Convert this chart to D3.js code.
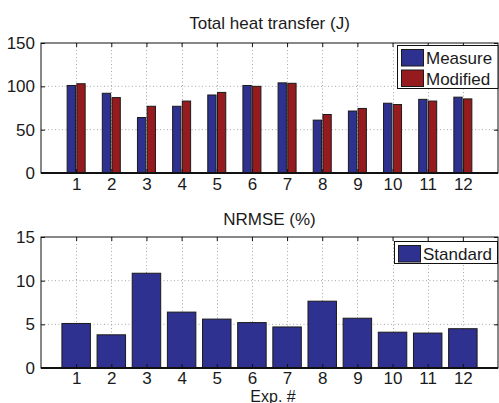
<!DOCTYPE html>
<html><head><meta charset="utf-8">
<script src="https://cdn.jsdelivr.net/npm/d3@7"></script>
<style>
html,body{margin:0;padding:0;background:#fff;}
svg{display:block;font-family:"Liberation Sans",Arial,sans-serif;}
</style></head>
<body>
<svg id="c" width="499" height="403"></svg>
<script>
const categories = ["1","2","3","4","5","6","7","8","9","10","11","12"];
const measure  = [101, 92, 64, 77, 90, 101, 104, 61, 71.5, 80.5, 85, 87.5];
const modified = [103, 87, 77, 83, 93, 100, 103.5, 67.5, 74.5, 79, 83, 85.5];
const standard = [5.1, 3.8, 10.85, 6.4, 5.6, 5.2, 4.7, 7.65, 5.7, 4.1, 4.0, 4.5];
const topTicks = [0, 50, 100, 150];
const botTicks = [0, 5, 10, 15];
const topTitle = "Total heat transfer (J)";
const botTitle = "NRMSE (%)";
const xLabel = "Exp. #";

const BLUE = "#2f3190", RED = "#961b1f";
const svg = d3.select("#c");
const L = 41, R = 498;
const x = d3.scaleLinear().domain([0, 13]).range([L, R]);

function panel(top, bottom, yMax, ticks, title, titleY, series, colors, names, barW, offsets, legendBox, pad) {
  const y = d3.scaleLinear().domain([0, yMax]).range([bottom, top]);
  const g = svg.append("g");
  g.selectAll(".gy").data(ticks.filter(t => t > 0 && t < yMax)).enter().append("line")
    .attr("x1", L).attr("x2", R).attr("y1", d => y(d)).attr("y2", d => y(d))
    .attr("stroke", "#a8a8a8").attr("stroke-width", 1).attr("stroke-dasharray", "1,2.5");
  g.selectAll(".gx").data(categories).enter().append("line")
    .attr("x1", (d, i) => Math.round(x(i + 1)) + 0.5).attr("x2", (d, i) => Math.round(x(i + 1)) + 0.5)
    .attr("y1", top).attr("y2", bottom)
    .attr("stroke", "#a8a8a8").attr("stroke-width", 1).attr("stroke-dasharray", "1,2.5");
  series.forEach((s, k) => {
    g.selectAll(null).data(s).enter().append("rect")
      .attr("x", (d, i) => x(i + 1 + offsets[k] - barW / 2))
      .attr("width", x(barW) - x(0))
      .attr("y", d => y(d)).attr("height", d => y(0) - y(d))
      .attr("fill", colors[k]).attr("stroke", "#1a1a1a").attr("stroke-width", 1);
  });
  g.append("rect").attr("x", L).attr("y", top).attr("width", R - L).attr("height", bottom - top)
    .attr("fill", "none").attr("stroke", "#111").attr("stroke-width", 1);
  g.append("line").attr("x1", L).attr("x2", R).attr("y1", bottom).attr("y2", bottom)
    .attr("stroke", "#111").attr("stroke-width", 2);
  const yAx = d3.axisLeft(y).tickValues(ticks).tickSize(-4).tickPadding(6);
  const ya = g.append("g").attr("transform", `translate(${L},0)`).call(yAx);
  ya.select(".domain").remove();
  ya.selectAll("text").attr("font-size", 17).attr("fill", "#1a1a1a").attr("font-family", "Liberation Sans, Arial, sans-serif");
  ya.selectAll("line").attr("stroke", "#111");
  const yAxR = d3.axisRight(y).tickValues(ticks).tickSize(-4).tickFormat("");
  const yr = g.append("g").attr("transform", `translate(${R},0)`).call(yAxR);
  yr.select(".domain").remove();
  yr.selectAll("line").attr("stroke", "#111");
  const xAx = d3.axisBottom(x).tickValues(d3.range(1, 13)).tickSize(-4).tickPadding(pad)
    .tickFormat(d => categories[d - 1]);
  const xa = g.append("g").attr("transform", `translate(0,${bottom})`).call(xAx);
  xa.select(".domain").remove();
  xa.selectAll("text").attr("font-size", 17).attr("fill", "#1a1a1a").attr("font-family", "Liberation Sans, Arial, sans-serif");
  xa.selectAll("line").attr("stroke", "#111");
  const xAxT = d3.axisTop(x).tickValues(d3.range(1, 13)).tickSize(-4).tickFormat("");
  const xt = g.append("g").attr("transform", `translate(0,${top})`).call(xAxT);
  xt.select(".domain").remove();
  xt.selectAll("line").attr("stroke", "#111");
  g.append("text").attr("x", (L + R) / 2).attr("y", titleY).attr("text-anchor", "middle")
    .attr("font-size", 17).attr("fill", "#1a1a1a").text(title);
  const lb = legendBox;
  g.append("rect").attr("x", lb.x).attr("y", lb.y).attr("width", lb.w).attr("height", lb.h)
    .attr("fill", "#fff").attr("stroke", "#111").attr("stroke-width", 1);
  names.forEach((n, k) => {
    const yy = lb.y + 4 + k * 20.5;
    g.append("rect").attr("x", lb.x + 4).attr("y", yy).attr("width", 22).attr("height", 16.5)
      .attr("fill", colors[k]).attr("stroke", "#1a1a1a").attr("stroke-width", 1);
    g.append("text").attr("x", lb.x + 28.5).attr("y", yy + 14.5).attr("font-size", 17)
      .attr("fill", "#1a1a1a").text(n);
  });
}

panel(43, 173, 150, topTicks, topTitle, 29, [measure, modified], [BLUE, RED],
  ["Measure", "Modified"], 0.236, [-0.138, 0.138], {x: 397.5, y: 45.5, w: 100.5, h: 43}, 5);
panel(237, 368, 15, botTicks, botTitle, 225, [standard], [BLUE],
  ["Standard"], 0.81, [0], {x: 394.5, y: 241.5, w: 103, h: 22}, 4);

svg.append("text").attr("x", 273).attr("y", 401.5).attr("text-anchor", "middle")
  .attr("font-size", 16).attr("fill", "#1a1a1a").text(xLabel);
</script>
</body></html>
